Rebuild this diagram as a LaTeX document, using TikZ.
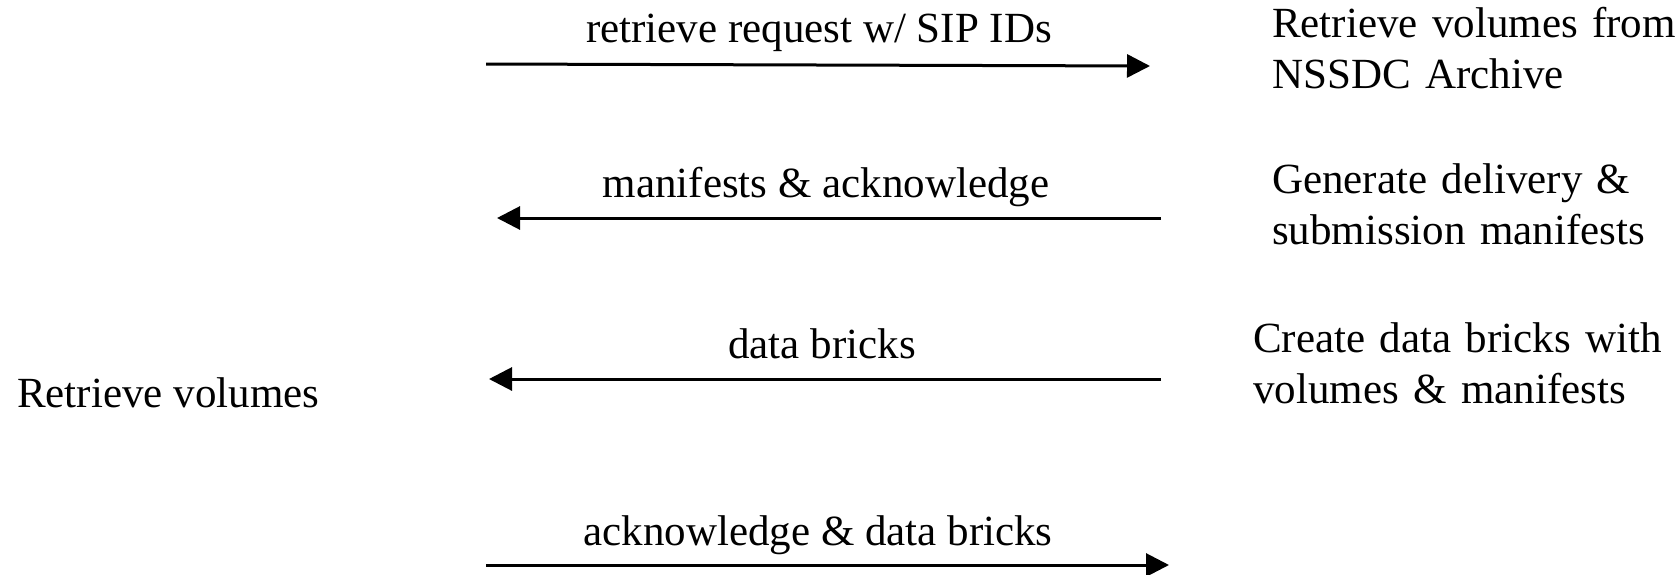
\documentclass[tikz,border=0pt]{standalone}
\usepackage{fontspec}
\setmainfont{Liberation Serif}
\usetikzlibrary{arrows.meta}
\begin{document}
\begin{tikzpicture}[x=1pt,y=-1pt,
  txt/.style={inner sep=0pt,font=\fontsize{43}{51}\selectfont},
  blk/.style={txt,align=left,text width=430pt,anchor=base west},
  lbl/.style={txt,anchor=base},
  msg/.style={line width=3pt,-{Triangle[length=23pt,width=23pt]}}]
\useasboundingbox (0,0) rectangle (1678,574);
% messages
\coordinate (a1s) at (486,64);
\coordinate (a1e) at (1150,66);
\coordinate (a2s) at (1161,218);
\coordinate (a2e) at (497,218);
\coordinate (a3s) at (1161,379);
\coordinate (a3e) at (489,379);
\coordinate (a4s) at (486,565);
\coordinate (a4e) at (1169,565);
\draw[msg] (a1s) -- (a1e);
\draw[msg] (a2s) -- (a2e);
\draw[msg] (a3s) -- (a3e);
\draw[msg] (a4s) -- (a4e);
\node[lbl] (l1) at (819,42) {retrieve request w/ SIP IDs};
\node[lbl] (l2) at (826,197) {manifests \& acknowledge};
\node[lbl] (l3) at (822,358) {data bricks};
\node[lbl] (l4) at (818,545) {acknowledge \& data bricks};
% right side
\node[blk] (r1) at (1272,37) {Retrieve volumes from\\NSSDC Archive};
\node[blk] (r2) at (1272,193) {Generate delivery \&\\submission manifests};
\node[blk] (r3) at (1253,352) {Create data bricks with\\volumes \& manifests};
% left side
\node[txt,anchor=base west] (left) at (17,407) {Retrieve volumes};
\end{tikzpicture}
\end{document}
